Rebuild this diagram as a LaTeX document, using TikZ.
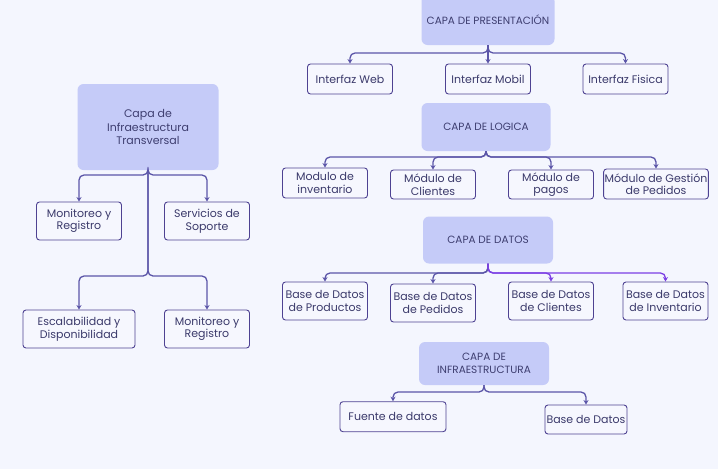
\documentclass[tikz,border=0pt]{standalone}
\usepackage{fontspec}
\setmainfont{Poppins}
\usetikzlibrary{arrows.meta}
\definecolor{pagebg}{HTML}{F4F6FE}
\definecolor{headfill}{HTML}{C5CBF8}
\definecolor{headtext}{HTML}{3E3E70}
\definecolor{boxline}{HTML}{4E4292}
\definecolor{boxfill}{HTML}{F6F7FE}
\definecolor{itemtext}{HTML}{3B3A6B}
\definecolor{connline}{HTML}{5B55A8}
\definecolor{connhot}{HTML}{7B3FE4}
\tikzset{
  layer/.style={fill=headfill, rounded corners=6pt, minimum width=130pt,
    minimum height=47pt, align=center, text=headtext,
    font=\fontsize{10.5}{12.5}\selectfont},
  item/.style={draw=boxline, fill=boxfill, line width=0.9pt, rounded corners=3pt,
    minimum width=85pt, minimum height=30pt, align=center, text=itemtext,
    inner sep=1pt, font=\fontsize{11}{12.5}\selectfont},
  conn/.style={draw=connline, line width=1.3pt, rounded corners=5pt,
    -{Stealth[length=4.5pt,width=5pt]}},
}
\begin{document}
\begin{tikzpicture}[x=1pt,y=-1pt]
\useasboundingbox[fill=pagebg] (0,0) rectangle (718,469);
% capa de presentacion
\node[layer, minimum width=133pt, minimum height=50pt] (pres) at (488,20) {CAPA DE PRESENTACIÓN};
\node[item] (web) at (350,79) {Interfaz Web};
\node[item] (mobil) at (488,79) {Interfaz Mobil};
\node[item] (fisica) at (625.5,79) {Interfaz Fisica};
\coordinate (busP) at (0,53);
\draw[conn] (pres.south) -- (pres.south |- busP) -| (web.north);
\draw[conn] (pres.south) -- (mobil.north);
\draw[conn] (pres.south) -- (pres.south |- busP) -| (fisica.north);
% capa de logica
\node[layer, minimum width=129pt, minimum height=48pt] (logica) at (486,127) {CAPA DE LOGICA};
\node[item] (modinv) at (325,183) {Modulo de\\inventario};
\node[item, minimum height=29pt] (modcli) at (433,184.5) {Módulo de\\Clientes};
\node[item, minimum height=29pt] (modpag) at (551,184.5) {Módulo de\\pagos};
\node[item, minimum width=104pt] (modped) at (656,184) {Módulo de Gestión\\de Pedidos};
\coordinate (busL) at (0,157);
\foreach \m in {modinv,modcli,modpag,modped}
  \draw[conn] (logica.south) -- (logica.south |- busL) -| (\m.north);
% capa de datos
\node[layer, minimum width=130pt, minimum height=47pt] (datos) at (488,240) {CAPA DE DATOS};
\node[item, minimum height=38pt] (bdprod) at (325,301) {Base de Datos\\de Productos};
\node[item, minimum height=38pt] (bdped) at (433,303) {Base de Datos\\de Pedidos};
\node[item, minimum height=38pt] (bdcli) at (551,301) {Base de Datos\\de Clientes};
\node[item, minimum height=38pt] (bdinv) at (665.5,301) {Base de Datos\\de Inventario};
\coordinate (busD) at (0,273);
\foreach \b in {bdprod,bdped}
  \draw[conn] (datos.south) -- (datos.south |- busD) -| (\b.north);
\foreach \b in {bdcli,bdinv}
  \draw[conn, draw=connhot] (datos.south) -- (datos.south |- busD) -| (\b.north);
% capa de infraestructura
\node[layer, minimum width=130pt, minimum height=43pt] (infra) at (484,363.5) {CAPA DE\\INFRAESTRUCTURA};
\node[item, minimum width=106pt] (fuente) at (393,416.7) {Fuente de datos};
\node[item, minimum width=82pt, minimum height=29pt] (bdinfra) at (586,419.5) {Base de Datos};
\coordinate (busI) at (0,392);
\foreach \b in {fuente,bdinfra}
  \draw[conn] (infra.south) -- (infra.south |- busI) -| (\b.north);
% capa transversal
\node[layer, minimum width=141pt, minimum height=86pt, font=\fontsize{11}{13.3}\selectfont] (trans) at (148,127) {Capa de\\Infraestructura\\Transversal};
\node[item, minimum height=38pt] (monA) at (79,221) {Monitoreo y\\Registro};
\node[item, minimum height=38pt] (serv) at (207,221) {Servicios de\\Soporte};
\node[item, minimum width=112pt, minimum height=38pt] (escal) at (79,329) {Escalabilidad y\\Disponibilidad};
\node[item, minimum height=38pt] (monB) at (207,329) {Monitoreo y\\Registro};
\coordinate (busT) at (0,175);
\coordinate (busU) at (0,276);
\foreach \t in {monA,serv}
  \draw[conn] (trans.south) -- (trans.south |- busT) -| (\t.north);
\foreach \t in {escal,monB}
  \draw[conn] (trans.south) -- (trans.south |- busU) -| (\t.north);
\end{tikzpicture}
\end{document}
